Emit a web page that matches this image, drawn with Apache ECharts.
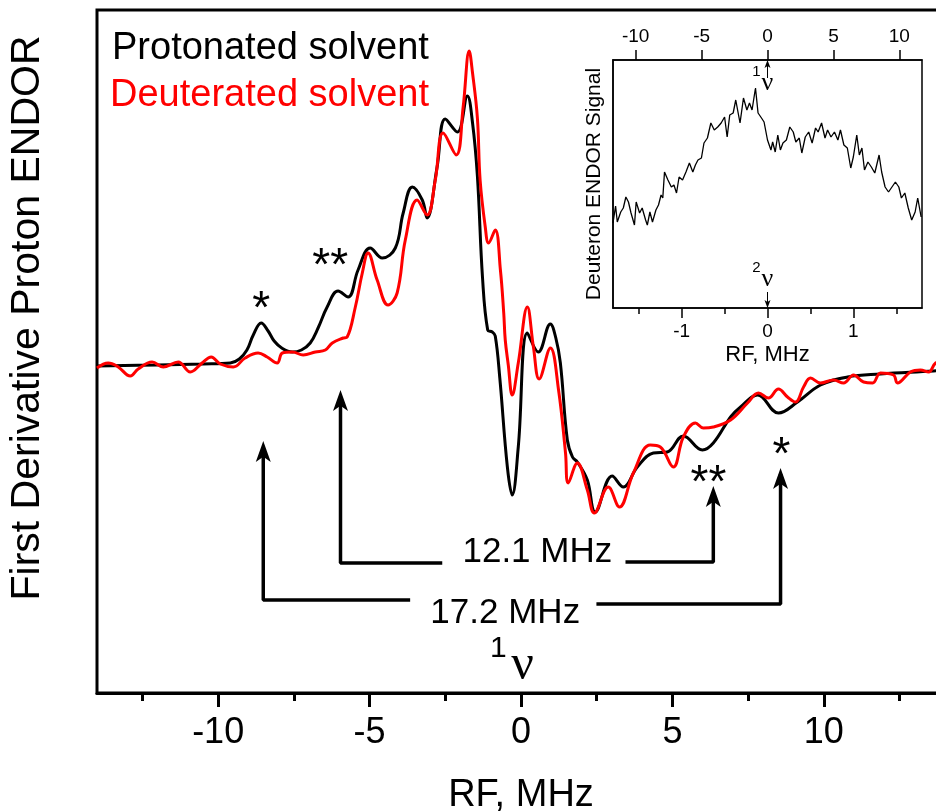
<!DOCTYPE html>
<html>
<head>
<meta charset="utf-8">
<script src="https://cdn.jsdelivr.net/npm/echarts@6/dist/echarts.min.js"></script>
<style>
  html, body { margin: 0; padding: 0; background: #fff; }
  #chart { width: 936px; height: 812px; }
</style>
</head>
<body>
<div id="chart"></div>
<script>
// main spectrum: RF offset (MHz) vs first-derivative signal (arb. units)
const protonated = [
  [-14.0, 2], [-12.0, 3], [-10.5, 4], [-9.6, 5], [-9.3, 9], [-9.05, 18], [-8.84, 33], [-8.58, 45],
  [-8.35, 37], [-8.15, 27], [-7.9, 20], [-7.55, 16], [-7.25, 18], [-6.96, 25], [-6.7, 40], [-6.4, 61],
  [-6.04, 77], [-5.71, 71], [-5.38, 98], [-4.98, 120], [-4.58, 110], [-4.15, 120], [-3.89, 155],
  [-3.59, 181], [-3.26, 168], [-3.1, 150], [-2.77, 201], [-2.5, 249], [-2.1, 236], [-1.77, 272],
  [-1.6, 245], [-1.44, 192], [-1.27, 90], [-1.1, 38], [-0.95, 36], [-0.85, 32], [-0.7, -10],
  [-0.45, -99], [-0.29, -127], [-0.09, -79], [0.21, 35], [0.57, 16], [0.97, 44], [1.15, 30],
  [1.3, 5], [1.53, -72], [1.7, -89], [1.86, -94], [2.19, -112], [2.45, -144], [3.01, -108],
  [3.38, -119], [3.84, -99], [4.37, -85], [4.83, -84], [5.36, -68], [5.99, -82], [6.35, -75],
  [6.92, -49], [7.25, -39], [7.81, -27], [8.5, -45], [9.13, -34], [9.89, -17], [10.78, -9],
  [11.87, -6], [13.62, -3], [14.0, -2]
];
const deuterated = [
  [-14.0, 0], [-13.63, 5], [-13.3, 1], [-12.9, -8], [-12.64, -1], [-12.18, 6], [-11.81, 1],
  [-11.32, 6], [-10.92, -4], [-10.53, 5], [-10.23, 11], [-9.93, 4], [-9.5, 1], [-9.11, 10],
  [-8.68, 15], [-8.38, 11], [-8.05, 5], [-7.88, 15], [-7.55, 16], [-7.19, 13], [-6.79, 16],
  [-6.46, 18], [-6.23, 25], [-5.87, 30], [-5.74, 31], [-5.47, 61], [-5.24, 95], [-5.05, 115],
  [-4.75, 88], [-4.39, 63], [-4.09, 75], [-3.82, 128], [-3.43, 168], [-3.1, 153], [-2.83, 188],
  [-2.57, 235], [-2.14, 213], [-1.91, 261], [-1.71, 317], [-1.6, 295], [-1.44, 250], [-1.35, 188],
  [-1.18, 141], [-1.07, 125], [-0.85, 138], [-0.68, 98], [-0.57, 55], [-0.52, 28], [-0.42, 3],
  [-0.29, -27], [-0.09, 5], [0.21, 61], [0.41, 21], [0.6, -11], [0.97, 20], [1.24, -22],
  [1.47, -85], [1.56, -115], [1.86, -95], [2.19, -122], [2.42, -145], [2.88, -119], [3.25, -139],
  [3.71, -105], [4.27, -77], [4.6, -79], [5.03, -99], [5.36, -69], [5.76, -55], [6.02, -60],
  [6.35, -59], [6.92, -52], [7.48, -35], [7.84, -25], [8.17, -30], [8.5, -21], [8.8, -29],
  [9.06, -34], [9.33, -19], [9.56, -10], [9.89, -15], [10.32, -12], [10.65, -15], [10.98, -7],
  [11.31, -14], [11.61, -15], [11.87, -5], [12.3, -7], [12.43, -15], [12.86, -4], [13.19, -2],
  [13.46, -4], [13.69, 5], [14.0, 8]
];

// inset: deuteron ENDOR (MHz vs signal)
const deuteron = [
  [-1.80, 85], [-1.77, 102], [-1.75, 86], [-1.71, 96], [-1.68, 100], [-1.65, 111], [-1.62, 106],
  [-1.59, 95], [-1.55, 83], [-1.53, 106], [-1.49, 95], [-1.46, 100], [-1.42, 88], [-1.40, 83],
  [-1.37, 96], [-1.34, 86], [-1.30, 98], [-1.27, 103], [-1.24, 113], [-1.22, 110], [-1.20, 136],
  [-1.16, 128], [-1.12, 121], [-1.09, 123], [-1.06, 115], [-1.03, 131], [-0.99, 128], [-0.95, 136],
  [-0.91, 145], [-0.87, 136], [-0.84, 143], [-0.81, 148], [-0.77, 150], [-0.74, 165], [-0.70, 170],
  [-0.66, 185], [-0.62, 178], [-0.58, 181], [-0.54, 185], [-0.50, 191], [-0.47, 171], [-0.44, 193],
  [-0.40, 195], [-0.37, 208], [-0.32, 185], [-0.28, 210], [-0.24, 198], [-0.21, 205], [-0.18, 198],
  [-0.14, 220], [-0.11, 195], [-0.07, 190], [-0.04, 186], [0.00, 168], [0.04, 158], [0.06, 166],
  [0.09, 156], [0.12, 173], [0.15, 158], [0.18, 165], [0.22, 168], [0.26, 181], [0.30, 176],
  [0.33, 166], [0.37, 170], [0.40, 155], [0.44, 171], [0.48, 176], [0.52, 165], [0.56, 180],
  [0.59, 176], [0.63, 185], [0.67, 170], [0.70, 178], [0.74, 171], [0.78, 176], [0.82, 168],
  [0.85, 178], [0.89, 163], [0.93, 160], [0.97, 140], [1.00, 151], [1.04, 173], [1.07, 153],
  [1.10, 160], [1.13, 138], [1.17, 146], [1.21, 141], [1.25, 135], [1.30, 153], [1.33, 136],
  [1.37, 121], [1.41, 116], [1.45, 121], [1.49, 126], [1.53, 121], [1.56, 110], [1.60, 115],
  [1.64, 100], [1.68, 88], [1.72, 96], [1.75, 110], [1.79, 91]
];

const mainTicks = [-10, -5, 0, 5, 10];
const mainMinorTicks = [-12.5, -7.5, -2.5, 2.5, 7.5, 12.5];
const insetTicks = [-1, 0, 1];
const insetMinorTicks = [-1.5, -0.5, 0.5, 1.5];
const insetTopTicks = [-10, -5, 0, 5, 10];

// coupling brackets (17.2 MHz and 12.1 MHz), in axis units
const brackets = [
  [[-3.66, -232], [-8.51, -232], [-8.51, -80]],
  [[2.49, -236], [8.57, -236], [8.57, -106]],
  [[-2.60, -195], [-5.96, -195], [-5.96, -30]],
  [[3.45, -194], [6.35, -194], [6.35, -124]]
];
const arrowTips = [[-8.51, -73], [8.57, -100], [-5.96, -22], [6.35, -118]];

const mainNotes = [
  { x: -8.58, y: 68, text: '*' },
  { x: -6.30, y: 111, text: '**' },
  { x: 6.19, y: -106, text: '**' },
  { x: 8.60, y: -78, text: '*' }
];
const couplingNotes = [
  { x: 0.54, y: -184, text: '12.1 MHz' },
  { x: -0.52, y: -245, text: '17.2 MHz' }
];

const SANS = '"Liberation Sans", Arial, sans-serif';
const SERIF = '"Liberation Serif", "DejaVu Serif", serif';

const chart = echarts.init(document.getElementById('chart'), null, { renderer: 'canvas' });

function textSeries(items, xi, yi, style) {
  return {
    type: 'scatter', xAxisIndex: xi, yAxisIndex: yi, symbolSize: 0, silent: true, z: 6,
    itemStyle: { color: '#000', opacity: 1 },
    data: items.map(t => ({
      value: [t.x, t.y],
      label: Object.assign({
        show: true, position: 'inside', formatter: t.text, color: '#000', opacity: 1
      }, style)
    }))
  };
}

const arrowPath = 'path://M0,0 L7,20 L0,15 L-7,20 Z';

chart.setOption({
  animation: false,
  grid: [
    { left: 97, top: 10, width: 848, height: 683, outerBoundsMode: 'none', containLabel: false,
      show: true, borderColor: '#000', borderWidth: 3 },
    { left: 613, top: 60, width: 309, height: 248, outerBoundsMode: 'none', containLabel: false,
      show: true, borderColor: '#000', borderWidth: 1.5 }
  ],
  xAxis: [
    {
      type: 'value', gridIndex: 0, position: 'bottom', min: -14, max: 14,
      axisLine: { onZero: false, lineStyle: { color: '#000', width: 3 } },
      axisTick: { customValues: mainTicks, length: 14, lineStyle: { color: '#000', width: 3 } },
      axisLabel: { customValues: mainTicks, fontSize: 36, fontFamily: SANS, color: '#000', margin: 22 },
      splitLine: { show: false },
      name: 'RF, MHz', nameLocation: 'middle', nameGap: 84,
      nameTextStyle: { fontSize: 38, fontFamily: SANS, color: '#000' }
    },
    {
      type: 'value', gridIndex: 0, position: 'bottom', min: -14, max: 14,
      axisLine: { show: false, onZero: false },
      axisTick: { customValues: mainMinorTicks, length: 8, lineStyle: { color: '#000', width: 3 } },
      axisLabel: { show: false }, splitLine: { show: false }
    },
    {
      type: 'value', gridIndex: 1, position: 'bottom', min: -1.8, max: 1.8,
      axisLine: { onZero: false, lineStyle: { color: '#000', width: 1.5 } },
      axisTick: { customValues: insetTicks, length: 10, lineStyle: { color: '#000', width: 1.5 } },
      axisLabel: { customValues: insetTicks, fontSize: 19, fontFamily: SANS, color: '#000', margin: 14 },
      splitLine: { show: false },
      name: 'RF, MHz', nameLocation: 'middle', nameGap: 36,
      nameTextStyle: { fontSize: 22, fontFamily: SANS, color: '#000' }
    },
    {
      type: 'value', gridIndex: 1, position: 'bottom', min: -1.8, max: 1.8,
      axisLine: { show: false, onZero: false },
      axisTick: { customValues: insetMinorTicks, length: 6, lineStyle: { color: '#000', width: 1.5 } },
      axisLabel: { show: false }, splitLine: { show: false }
    },
    {
      type: 'value', gridIndex: 1, position: 'top', min: -11.72, max: 11.72,
      axisLine: { onZero: false, lineStyle: { color: '#000', width: 1.5 } },
      axisTick: { customValues: insetTopTicks, length: 10, lineStyle: { color: '#000', width: 1.5 } },
      axisLabel: { customValues: insetTopTicks, fontSize: 19, fontFamily: SANS, color: '#000', margin: 14 },
      splitLine: { show: false }
    }
  ],
  yAxis: [
    { type: 'value', gridIndex: 0, position: 'left', min: -325, max: 358, show: false },
    {
      type: 'value', gridIndex: 1, position: 'left', min: 0, max: 248,
      axisLine: { show: true, onZero: false, lineStyle: { color: '#000', width: 1.5 } },
      axisTick: { show: false }, axisLabel: { show: false }, splitLine: { show: false },
      name: 'Deuteron ENDOR Signal', nameLocation: 'middle', nameGap: 8,
      nameTextStyle: { fontSize: 21, fontFamily: SANS, color: '#000' }
    }
  ],
  series: [
    {
      name: 'Protonated solvent', type: 'line', xAxisIndex: 0, yAxisIndex: 0,
      data: protonated, smooth: 0.4, showSymbol: false, z: 3,
      lineStyle: { color: '#000', width: 3 }
    },
    {
      name: 'Deuterated solvent', type: 'line', xAxisIndex: 0, yAxisIndex: 0,
      data: deuterated, smooth: 0.4, showSymbol: false, z: 4,
      lineStyle: { color: '#ff0000', width: 3 }
    },
    ...brackets.map(b => ({
      type: 'line', xAxisIndex: 0, yAxisIndex: 0, data: b, showSymbol: false, silent: true,
      lineStyle: { color: '#000', width: 3.5 }, z: 5
    })),
    {
      type: 'scatter', xAxisIndex: 0, yAxisIndex: 0, data: arrowTips, silent: true, z: 6,
      symbol: arrowPath, symbolSize: [15, 21], symbolOffset: [0, '50%'],
      itemStyle: { color: '#000', opacity: 1 }
    },
    textSeries(mainNotes, 0, 0, { fontSize: 46, fontFamily: SANS, offset: [0, 10] }),
    textSeries(couplingNotes, 0, 0, { fontSize: 35, fontFamily: SANS }),
    textSeries([{ x: -0.75, y: -281, text: '1' }], 0, 0, { fontSize: 30, fontFamily: SANS }),
    textSeries([{ x: 0.05, y: -304, text: 'ν' }], 0, 0, { fontSize: 50, fontFamily: SERIF, offset: [0, -6] }),
    {
      name: 'Deuteron', type: 'line', xAxisIndex: 2, yAxisIndex: 1, data: deuteron,
      showSymbol: false, lineStyle: { color: '#000', width: 1.3 }, z: 3
    },
    {
      type: 'line', xAxisIndex: 2, yAxisIndex: 1, data: [[0, 230], [0, 244]], showSymbol: false,
      silent: true, lineStyle: { color: '#000', width: 1 }
    },
    {
      type: 'line', xAxisIndex: 2, yAxisIndex: 1, data: [[0, 16], [0, 4]], showSymbol: false,
      silent: true, lineStyle: { color: '#000', width: 1 }
    },
    {
      type: 'scatter', xAxisIndex: 2, yAxisIndex: 1, silent: true, z: 6,
      data: [
        { value: [0, 248], symbolRotate: 0, symbolOffset: [0, '50%'] },
        { value: [0, 0], symbolRotate: 180, symbolOffset: [0, '-50%'] }
      ],
      symbol: arrowPath, symbolSize: [6, 8], itemStyle: { color: '#000', opacity: 1 }
    },
    textSeries([{ x: -0.13, y: 236, text: '1' }, { x: -0.13, y: 40, text: '2' }], 2, 1,
      { fontSize: 15, fontFamily: SANS }),
    textSeries([{ x: 0.0, y: 222, text: 'ν' }, { x: 0.0, y: 26, text: 'ν' }], 2, 1,
      { fontSize: 26, fontFamily: SERIF, offset: [0, -3] })
  ],
  graphic: [
    {
      type: 'text', x: 28, y: 318, rotation: Math.PI / 2,
      style: { text: 'First Derivative Proton ENDOR', font: '41px ' + SANS, fill: '#000', align: 'center', verticalAlign: 'middle' }
    },
    {
      type: 'text', x: 112, y: 49,
      style: { text: 'Protonated solvent', font: '38px ' + SANS, fill: '#000', align: 'left', verticalAlign: 'middle' }
    },
    {
      type: 'text', x: 110, y: 96,
      style: { text: 'Deuterated solvent', font: '38px ' + SANS, fill: '#ff0000', align: 'left', verticalAlign: 'middle' }
    }
  ]
});

window.addEventListener('resize', () => chart.resize());
</script>
</body>
</html>
